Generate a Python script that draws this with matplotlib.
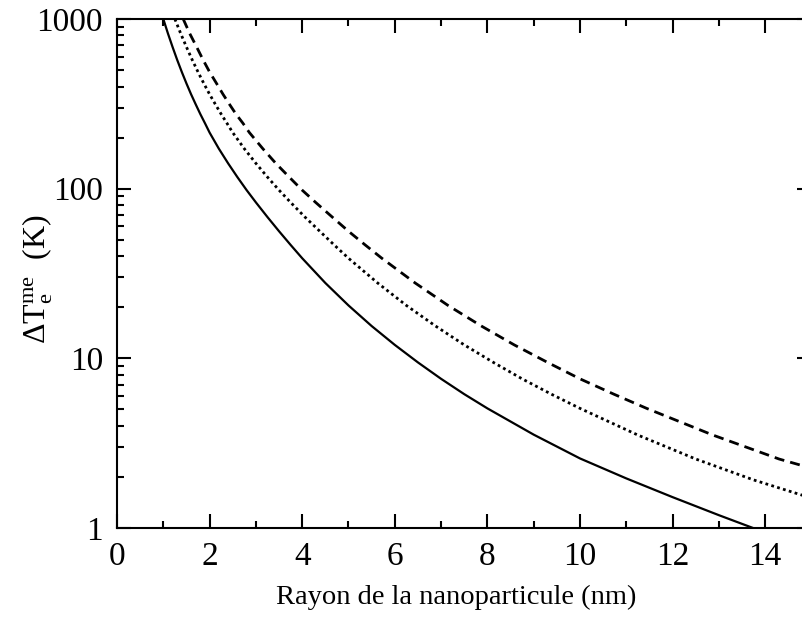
import matplotlib
matplotlib.use("Agg")
import matplotlib.pyplot as plt
from matplotlib.ticker import LogLocator, FixedLocator, NullFormatter

plt.rcParams['font.family'] = ['Liberation Serif', 'DejaVu Serif']
plt.rcParams['mathtext.fontset'] = 'custom'
plt.rcParams['mathtext.rm'] = 'Liberation Serif'
plt.rcParams['mathtext.it'] = 'Liberation Serif'

# Data
x_solid = [1.0, 1.1, 1.2, 1.3, 1.4, 1.5, 1.6, 1.7, 1.8, 1.9, 2.0, 2.2, 2.4, 2.6, 2.8, 3.0,
           3.25, 3.5, 3.75, 4.0, 4.5, 5.0, 5.5, 6.0, 6.5, 7.0, 7.5, 8.0, 9.0, 10.0,
           11.0, 12.0, 13.0, 14.0, 15.0]
y_solid = [1000, 822, 684, 574, 487, 417, 360, 314, 275, 243, 214, 172, 141, 117, 98, 83,
           68, 56.1, 46.6, 38.9, 27.8, 20.5, 15.5, 12.0, 9.46, 7.57, 6.15, 5.07, 3.55, 2.57,
           1.96, 1.52, 1.19, 0.94, 0.76]

x_dot = [1.25, 1.375, 1.5, 1.625, 1.75, 1.875, 2.0, 2.125, 2.25, 2.375, 2.5, 2.75, 3.0,
         3.25, 3.5, 3.75, 4.06, 4.38, 4.69, 5.0, 5.63, 6.25, 6.88, 7.5, 8.13, 8.75, 9.38,
         10.0, 11.25, 12.5, 13.75, 15.0]
y_dot = [1000, 822, 684, 574, 487, 417, 360, 314, 275, 243, 214, 172, 141,
         117, 98, 83, 68, 56.1, 46.6, 38.9, 27.8, 20.5, 15.5, 12.0, 9.46, 7.57, 6.15,
         5.07, 3.53, 2.55, 1.92, 1.50]

x_dash = [1.43, 1.57, 1.72, 1.86, 2.0, 2.15, 2.29, 2.43, 2.57, 2.72, 2.86, 3.15, 3.43,
          3.72, 4.0, 4.29, 4.65, 5.0, 5.36, 5.72, 6.44, 7.15, 7.87, 8.58, 9.3, 10.0,
          10.73, 11.44, 12.87, 14.3, 15.0]
y_dash = [1000, 822, 684, 574, 487, 417, 360, 314, 275, 243, 214, 172, 141,
          117, 98, 83, 68, 56.1, 46.6, 38.9, 27.8, 20.5, 15.5, 12.0, 9.46, 7.57,
          6.15, 5.07, 3.53, 2.55, 2.25]

xticks = [0, 2, 4, 6, 8, 10, 12, 14]
xminor = [1, 3, 5, 7, 9, 11, 13, 15]
yticks = [1, 10, 100, 1000]
ytick_labels = ['1', '10', '100', '1000']
xlabel = 'Rayon de la nanoparticule (nm)'
ylabel = r'$\Delta\mathrm{T}_{\mathrm{e}}^{\mathrm{me}}$  (K)'

fig = plt.figure(figsize=(8.03, 6.19), dpi=100)
ax = fig.add_axes([117/803, 1-528/619, (811.5-117)/803, (528-19)/619])

ax.plot(x_solid, y_solid, color='black', lw=1.6, ls='-')
ax.plot(x_dot, y_dot, color='black', lw=2.0, ls=(0, (1.0, 1.2)))
ax.plot(x_dash, y_dash, color='black', lw=2.0, ls=(0, (3.6, 2.2)))

ax.set_yscale('log')
ax.set_xlim(0, 15)
ax.set_ylim(1, 1000)
ax.set_xticks(xticks)
ax.xaxis.set_minor_locator(FixedLocator(xminor))
ax.set_yticks(yticks)
ax.set_yticklabels(ytick_labels)
ax.yaxis.set_minor_locator(LogLocator(base=10, subs=range(2, 10)))
ax.yaxis.set_minor_formatter(NullFormatter())

for s in ax.spines.values():
    s.set_linewidth(1.5)
ax.tick_params(which='both', direction='in', top=True, right=True, width=1.5, labelsize=24)
ax.tick_params(which='major', length=10, pad=10)
ax.tick_params(which='minor', length=5)

ax.set_xlabel(xlabel, fontsize=20.5, va='center')
ax.xaxis.set_label_coords(0.489, -0.1356)
ax.set_ylabel(ylabel, fontsize=23, va='center')
ax.yaxis.set_label_coords(-0.1145, 0.489)

fig.savefig('out.png', dpi=100)
